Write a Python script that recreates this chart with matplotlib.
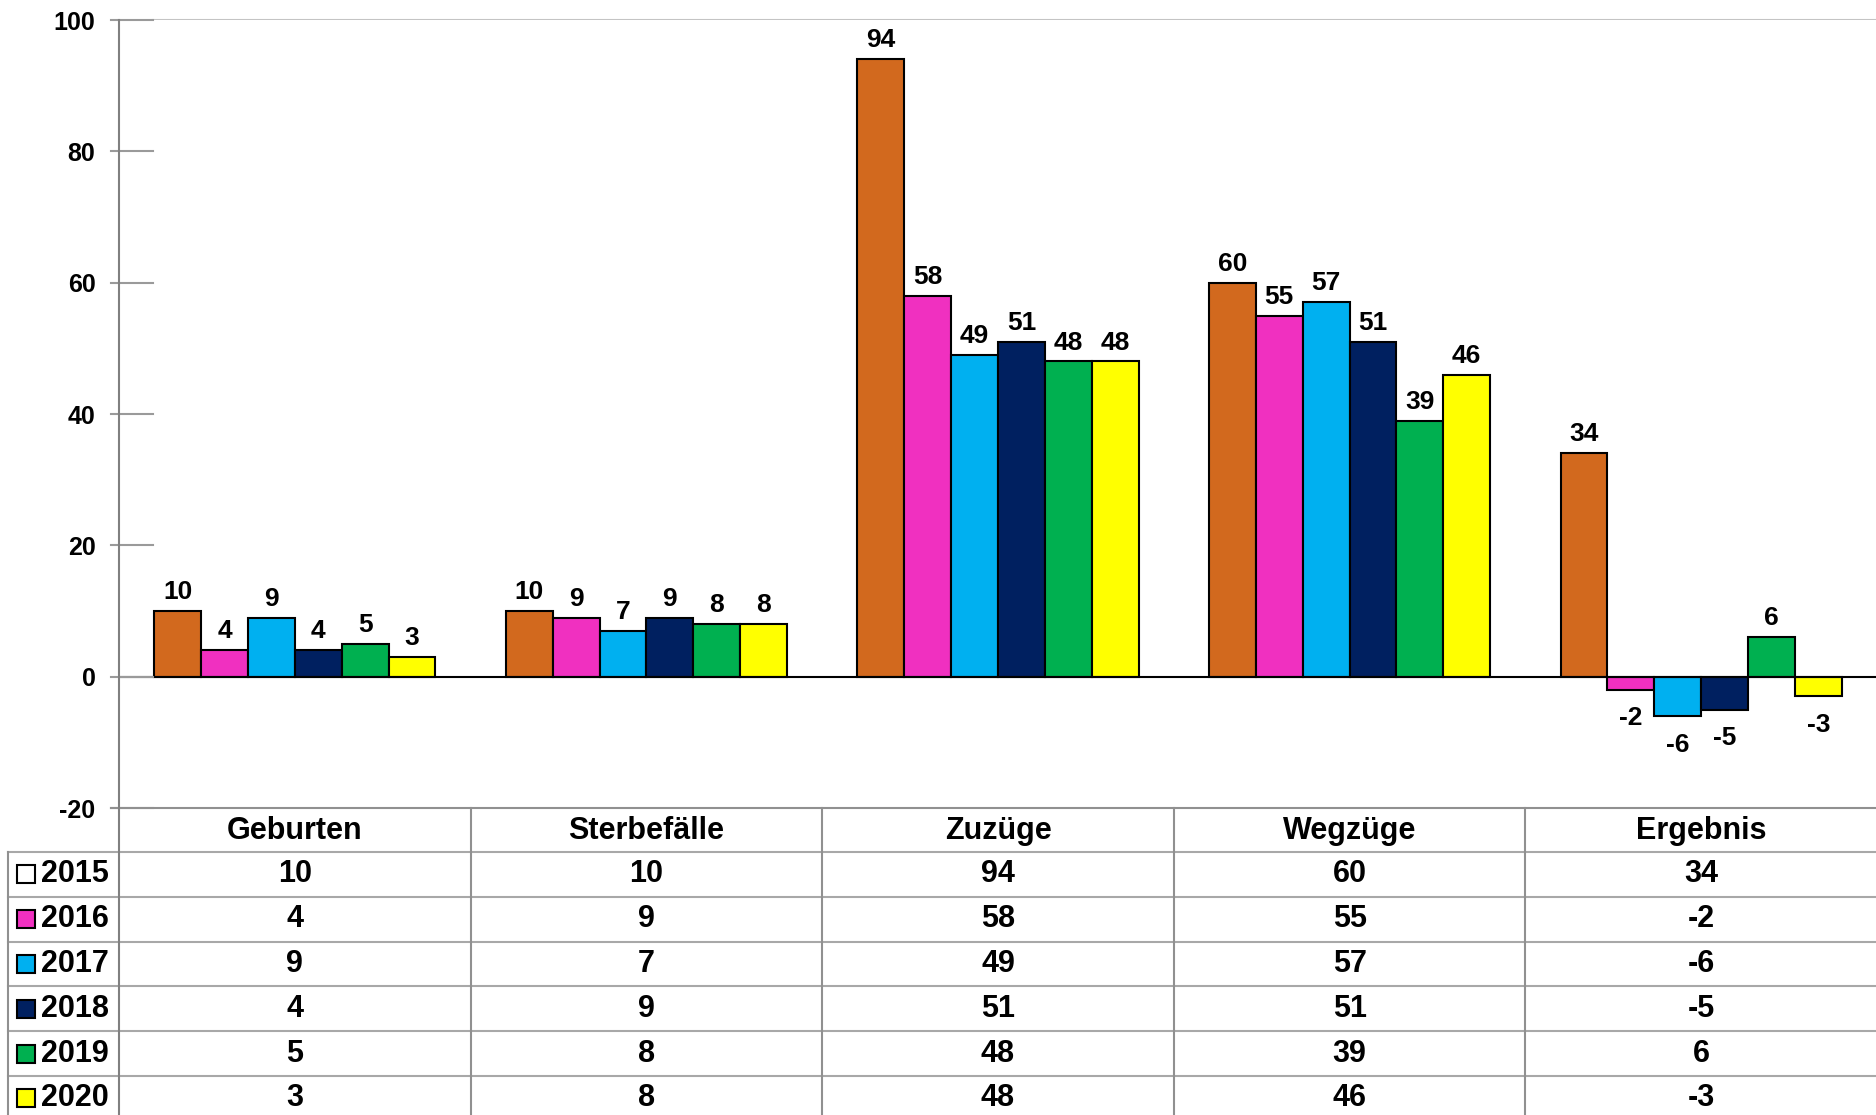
import matplotlib
matplotlib.use("Agg")
import matplotlib.pyplot as plt
from matplotlib.lines import Line2D
from matplotlib.patches import Rectangle
from matplotlib.transforms import blended_transform_factory
import numpy as np

plt.rcParams['font.family'] = ['Liberation Sans', 'DejaVu Sans']
plt.rcParams['font.weight'] = 'bold'

categories = ["Geburten", "Sterbefälle", "Zuzüge", "Wegzüge", "Ergebnis"]
years = ["2015", "2016", "2017", "2018", "2019", "2020"]
v2015 = [10, 10, 94, 60, 34]
v2016 = [4, 9, 58, 55, -2]
v2017 = [9, 7, 49, 57, -6]
v2018 = [4, 9, 51, 51, -5]
v2019 = [5, 8, 48, 39, 6]
v2020 = [3, 8, 48, 46, -3]
series = [v2015, v2016, v2017, v2018, v2019, v2020]
colors = ["#D2691E", "#F030C0", "#00B0F0", "#002060", "#00B050", "#FFFF00"]
legend_colors = ["#FFFFFF", "#F030C0", "#00B0F0", "#002060", "#00B050", "#FFFF00"]
yticks = [-20, 0, 20, 40, 60, 80, 100]

W, H = 1876, 1115
fig = plt.figure(figsize=(W / 100, H / 100), dpi=100)

def fx(px):
    return px / W

def fy(py):
    return 1 - py / H

ax_left, ax_top, ax_bottom = 119, 20, 808
ax = fig.add_axes([fx(ax_left), fy(ax_bottom), (1877 - ax_left) / W, (ax_bottom - ax_top) / H])
ax.set_xlim(0, 5)
ax.set_ylim(-20, 100)
for s in ax.spines.values():
    s.set_visible(False)
ax.set_xticks([])
ax.set_yticks(yticks)
ax.set_yticklabels([str(t) for t in yticks], fontsize=18, fontweight='bold')
ax.tick_params(axis='y', length=0, pad=17)

# gridlines
bt_y = blended_transform_factory(fig.transFigure, ax.transData)
for t in yticks:
    if t in (-20, 0):
        continue
    col = "#e3e3e3" if t == 20 else "#c4c4c4"
    start = 1609 if t == 80 else 153
    fig.add_artist(Line2D([fx(start), 1.0], [t, t], transform=bt_y, color=col, lw=1.5, zorder=0))
# tick marks
for t in yticks:
    fig.add_artist(Line2D([fx(111), fx(153)], [t, t], transform=bt_y, color="#9a9a9a", lw=1.5, zorder=1))

# bars
n = len(series)
w = 0.8 / n
x0 = np.arange(len(categories)) + 0.5
for j, (vals, c) in enumerate(zip(series, colors)):
    xs = x0 + (j - (n - 1) / 2) * w
    ax.bar(xs, vals, w, color=c, edgecolor="black", linewidth=1.5, zorder=3)
    for xv, v in zip(xs, vals):
        if v >= 0:
            ax.annotate(str(v), (xv, v), xytext=(0, 5), textcoords="offset points",
                        ha="center", va="bottom", fontsize=19, fontweight="bold")
        else:
            ax.annotate(str(v), (xv, v), xytext=(0, -12), textcoords="offset points",
                        ha="center", va="top", fontsize=19, fontweight="bold")

ax.axhline(0, color="black", lw=1.5, zorder=4)

# y axis line
fig.add_artist(Line2D([fx(119), fx(119)], [fy(20), fy(1115)], color="#808080", lw=1.5, zorder=5))

# table
bt = blended_transform_factory(ax.transData, fig.transFigure)
header_top = 808
header_bottom = 852
row_h = 44.8
fig.add_artist(Line2D([fx(111), 1.0], [fy(header_top), fy(header_top)], color="#909090", lw=1.5))
for k in range(len(years)):
    yl = header_bottom + row_h * k
    fig.add_artist(Line2D([fx(8), 1.0], [fy(yl), fy(yl)], color="#a8a8a8", lw=1.5))
fig.add_artist(Line2D([fx(8), fx(8)], [fy(header_bottom), fy(1115)], color="#909090", lw=1.5))
col_w = (1877 - 119) / 5
for i in range(1, 5):
    xl = 119 + col_w * i
    fig.add_artist(Line2D([fx(xl), fx(xl)], [fy(header_top), fy(1115)], color="#909090", lw=1.5))

for i, cat in enumerate(categories):
    fig.text(i + 0.5, fy((header_top + header_bottom) / 2 + 1), cat, transform=bt,
             ha="center", va="center", fontsize=22, fontweight="bold")

for k, (yr, vals, lc) in enumerate(zip(years, series, legend_colors)):
    yc = header_bottom + row_h * (k + 0.5)
    fig.add_artist(Rectangle((fx(17), fy(yc + 9)), 18 / W, 18 / H, transform=fig.transFigure,
                             facecolor=lc, edgecolor="black", lw=1.5))
    fig.text(fx(41), fy(yc), yr, ha="left", va="center", fontsize=22, fontweight="bold")
    for i, v in enumerate(vals):
        fig.text(i + 0.5, fy(yc), str(v), transform=bt, ha="center", va="center",
                 fontsize=22, fontweight="bold")

fig.savefig("out.png", dpi=100, facecolor="white")
